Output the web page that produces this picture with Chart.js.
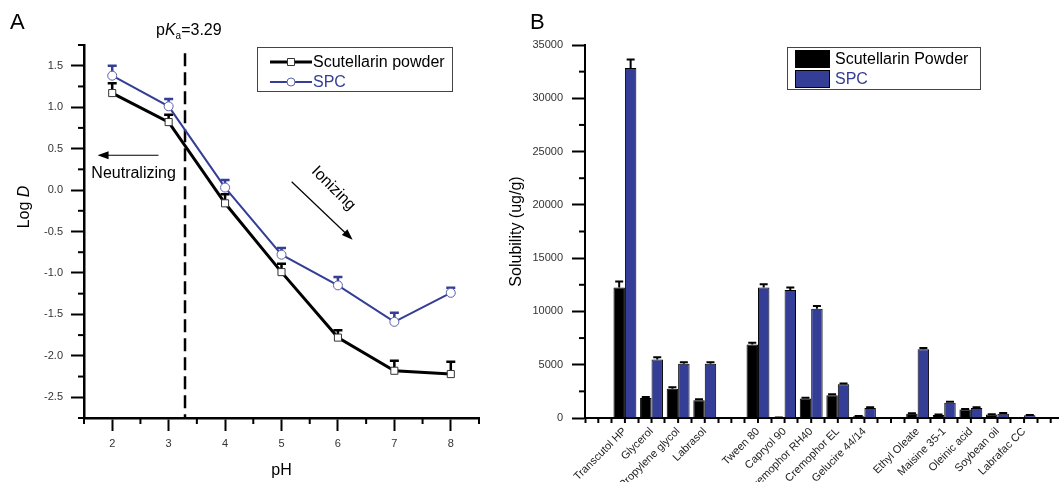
<!DOCTYPE html>
<html>
<head>
<meta charset="utf-8">
<script src="https://cdn.jsdelivr.net/npm/chart.js@4.4.1/dist/chart.umd.min.js"></script>
<style>
  html, body { margin: 0; padding: 0; background: #fff; overflow: hidden; }
  #wrap { position: relative; width: 1059px; height: 482px; overflow: hidden; }
  canvas { position: absolute; top: 0; }
  #chartA { left: 0; }
  #chartB { left: 500px; }
</style>
</head>
<body>
<div id="wrap">
  <canvas id="chartA" width="500" height="482"></canvas>
  <canvas id="chartB" width="568" height="482"></canvas>
</div>
<script>
const FONT = "'Liberation Sans', Arial, sans-serif";
const BLUE = '#343e96';

// Panel A: log D against pH
const phValues = [2, 3, 4, 5, 6, 7, 8];
const powderLogD = [1.17, 0.82, -0.16, -0.99, -1.78, -2.18, -2.22];
const powderLogDErr = [0.12, 0.09, 0.11, 0.10, 0.09, 0.12, 0.15];
const spcLogD = [1.38, 1.01, 0.03, -0.78, -1.15, -1.59, -1.24];
const spcLogDErr = [0.12, 0.09, 0.09, 0.08, 0.10, 0.11, 0.06];
const logDTicks = [-2.5, -2.0, -1.5, -1.0, -0.5, 0.0, 0.5, 1.0, 1.5];
const pKa = 3.29;

// Panel B: solubility in excipients (blank names are the gaps between groups)
const solvents = ['', 'Transcutol HP', 'Glycerol', 'Propylene glycol', 'Labrasol', '',
  'Tween 80', 'Capryol 90', 'Cremophor RH40', 'Cremophor EL', 'Gelucire 44/14', '',
  'Ethyl Oleate', 'Maisine 35-1', 'Oleinic acid', 'Soybean oil', 'Labrafac CC', ''];
const powderSol = [null, 12250, 1880, 2750, 1660, null, 6900, 40, 1820, 2130, 160, null, 400, 280, 790, 320, 0, null];
const powderSolErr = [null, 550, 90, 130, 90, null, 150, 10, 90, 100, 30, null, 50, 40, 60, 30, 0, null];
const spcSol = [null, 32850, 5500, 5100, 5100, null, 12250, 12000, 10250, 3160, 940, null, 6450, 1440, 940, 410, 250, null];
const spcSolErr = [null, 800, 200, 120, 120, null, 300, 250, 250, 80, 60, null, 130, 80, 60, 50, 30, null];
const solTicks = [0, 5000, 10000, 15000, 20000, 25000, 30000, 35000];

// error bars, upper side only
const errorBars = {
  id: 'errorBars',
  beforeDatasetsDraw(chart, args, opts) {
    const { ctx } = chart;
    const yScale = chart.scales.y;
    chart.data.datasets.forEach((ds, di) => {
      if (!ds.errors) return;
      const meta = chart.getDatasetMeta(di);
      ctx.save();
      ctx.strokeStyle = ds.errorColor;
      ctx.lineWidth = opts.width;
      meta.data.forEach((el, i) => {
        const v = meta.controller.getParsed(i).y;
        const err = ds.errors[i];
        if (v == null || isNaN(v) || !err) return;
        const top = yScale.getPixelForValue(v + err);
        ctx.beginPath();
        ctx.moveTo(el.x, el.y);
        ctx.lineTo(el.x, top);
        ctx.moveTo(el.x - opts.cap / 2, top);
        ctx.lineTo(el.x + opts.cap / 2, top);
        ctx.stroke();
      });
      ctx.restore();
    });
  }
};

// short ticks between the labelled ones
const minorTicks = {
  id: 'minorTicks',
  afterDraw(chart, args, opts) {
    const { ctx } = chart;
    ['x', 'y'].forEach(id => {
      const m = opts[id];
      const s = chart.scales[id];
      if (!m) return;
      ctx.save();
      ctx.strokeStyle = '#000';
      ctx.lineWidth = 2;
      m.values.forEach(v => {
        const p = s.getPixelForValue(v);
        ctx.beginPath();
        if (s.isHorizontal()) {
          ctx.moveTo(p, s.top);
          ctx.lineTo(p, s.top + m.length);
        } else {
          ctx.moveTo(s.right, p);
          ctx.lineTo(s.right - m.length, p);
        }
        ctx.stroke();
      });
      ctx.restore();
    });
  }
};

function arrow(ctx, x1, y1, x2, y2, head, width) {
  const a = Math.atan2(y2 - y1, x2 - x1);
  ctx.beginPath();
  ctx.moveTo(x1, y1);
  ctx.lineTo(x2 - Math.cos(a) * head * 0.8, y2 - Math.sin(a) * head * 0.8);
  ctx.stroke();
  ctx.beginPath();
  ctx.moveTo(x2, y2);
  ctx.lineTo(x2 - head * Math.cos(a) + width * Math.sin(a), y2 - head * Math.sin(a) - width * Math.cos(a));
  ctx.lineTo(x2 - head * Math.cos(a) - width * Math.sin(a), y2 - head * Math.sin(a) + width * Math.cos(a));
  ctx.closePath();
  ctx.fill();
}

const panelA = {
  id: 'panelA',
  beforeDatasetsDraw(chart) {
    const { ctx, chartArea, scales: { x, y } } = chart;
    const px = x.getPixelForValue(pKa);
    ctx.save();
    ctx.strokeStyle = '#000';
    ctx.lineWidth = 2.5;
    ctx.setLineDash([13, 6]);
    ctx.beginPath();
    ctx.moveTo(px, y.getPixelForValue(1.65));
    ctx.lineTo(px, chartArea.bottom);
    ctx.stroke();
    ctx.restore();
  },
  afterDraw(chart) {
    const { ctx, chartArea, scales: { x, y } } = chart;
    ctx.save();
    ctx.fillStyle = '#000';
    ctx.strokeStyle = '#000';

    // panel letter
    ctx.font = `22px ${FONT}`;
    ctx.fillText('A', 10, 29);

    // pKa label
    let tx = x.getPixelForValue(pKa) - 29;
    const ty = 35;
    ctx.font = `16px ${FONT}`;
    ctx.fillText('p', tx, ty); tx += ctx.measureText('p').width;
    ctx.font = `italic 16px ${FONT}`;
    ctx.fillText('K', tx, ty); tx += ctx.measureText('K').width;
    ctx.font = `10px ${FONT}`;
    ctx.fillText('a', tx, ty + 4); tx += ctx.measureText('a').width;
    ctx.font = `16px ${FONT}`;
    ctx.fillText('=3.29', tx, ty);

    // y title "Log D"
    ctx.save();
    ctx.translate(25, 207);
    ctx.rotate(-Math.PI / 2);
    ctx.textBaseline = 'middle';
    ctx.font = `16px ${FONT}`;
    const w1 = ctx.measureText('Log ').width;
    ctx.font = `italic 16px ${FONT}`;
    const w2 = ctx.measureText('D').width;
    ctx.font = `16px ${FONT}`;
    ctx.fillText('Log ', -(w1 + w2) / 2, 0);
    ctx.font = `italic 16px ${FONT}`;
    ctx.fillText('D', -(w1 + w2) / 2 + w1, 0);
    ctx.restore();

    // neutralizing / ionizing arrows
    ctx.lineWidth = 1.2;
    arrow(ctx, x.getPixelForValue(2.82), y.getPixelForValue(0.42), x.getPixelForValue(1.74), y.getPixelForValue(0.42), 11, 4);
    ctx.font = `16px ${FONT}`;
    ctx.fillText('Neutralizing', x.getPixelForValue(1.63), y.getPixelForValue(0.14));
    arrow(ctx, x.getPixelForValue(5.18), y.getPixelForValue(0.10), x.getPixelForValue(6.26), y.getPixelForValue(-0.60), 11, 4);
    ctx.save();
    ctx.translate(x.getPixelForValue(5.92), y.getPixelForValue(0.02));
    ctx.rotate(Math.PI / 4);
    ctx.textAlign = 'center';
    ctx.textBaseline = 'middle';
    ctx.fillText('Ionizing', 0, 0);
    ctx.restore();

    // legend
    const lx = chartArea.right - 222, ly = chartArea.top + 2;
    ctx.lineWidth = 1;
    ctx.strokeStyle = '#444';
    ctx.strokeRect(lx + 0.5, ly + 0.5, 195, 44);
    chart.data.datasets.forEach((ds, i) => {
      const cy = ly + 15 + i * 20;
      ctx.strokeStyle = ds.borderColor;
      ctx.lineWidth = ds.borderWidth;
      ctx.beginPath();
      ctx.moveTo(lx + 13, cy);
      ctx.lineTo(lx + 55, cy);
      ctx.stroke();
      ctx.fillStyle = '#fff';
      ctx.strokeStyle = ds.pointBorderColor;
      ctx.lineWidth = 1;
      ctx.beginPath();
      if (ds.pointStyle === 'rect') ctx.rect(lx + 30.5, cy - 3.5, 7, 7);
      else ctx.arc(lx + 34, cy, 4, 0, Math.PI * 2);
      ctx.fill();
      ctx.stroke();
      ctx.fillStyle = i === 0 ? '#000' : ds.borderColor;
      ctx.font = `16px ${FONT}`;
      ctx.textBaseline = 'middle';
      ctx.fillText(ds.label, lx + 56, cy + 1);
    });
    ctx.restore();
  }
};

const legendB = {
  id: 'legendB',
  afterDraw(chart) {
    const { ctx, chartArea } = chart;
    ctx.save();
    ctx.fillStyle = '#000';
    ctx.font = `22px ${FONT}`;
    ctx.fillText('B', chartArea.left - 55, 29);

    const lx = chartArea.left + 202, ly = 47;
    ctx.lineWidth = 1;
    ctx.strokeStyle = '#444';
    ctx.strokeRect(lx + 0.5, ly + 0.5, 193, 42);
    chart.data.datasets.forEach((ds, i) => {
      const top = ly + 3 + i * 20;
      ctx.fillStyle = ds.backgroundColor;
      ctx.fillRect(lx + 8, top, 35, 18);
      ctx.strokeStyle = '#000';
      ctx.strokeRect(lx + 8.5, top + 0.5, 34, 17);
      ctx.fillStyle = i === 0 ? '#000' : ds.backgroundColor;
      ctx.font = `16px ${FONT}`;
      ctx.textBaseline = 'middle';
      ctx.fillText(ds.label, lx + 48, top + 10);
    });
    ctx.restore();
  }
};

const tickFont = { family: FONT, size: 11 };

const minorPh = [];
for (let v = 1.5; v <= 8.5; v += 1) minorPh.push(v);
const minorLogD = [];
for (let v = -2.75; v <= 1.75; v += 0.5) minorLogD.push(v);
const minorSol = [];
for (let v = 2500; v < 35000; v += 5000) minorSol.push(v);

new Chart(document.getElementById('chartA'), {
  type: 'line',
  data: {
    datasets: [
      {
        label: 'Scutellarin powder',
        data: phValues.map((x, i) => ({ x, y: powderLogD[i] })),
        errors: powderLogDErr,
        errorColor: '#000',
        borderColor: '#000',
        borderWidth: 3,
        pointStyle: 'rect',
        pointRadius: 5,
        pointBackgroundColor: '#fff',
        pointBorderColor: '#333',
        pointBorderWidth: 1
      },
      {
        label: 'SPC',
        data: phValues.map((x, i) => ({ x, y: spcLogD[i] })),
        errors: spcLogDErr,
        errorColor: BLUE,
        borderColor: BLUE,
        borderWidth: 2,
        pointStyle: 'circle',
        pointRadius: 4.5,
        pointBackgroundColor: '#fff',
        pointBorderColor: '#5a62a8',
        pointBorderWidth: 1
      }
    ]
  },
  options: {
    responsive: false,
    animation: false,
    layout: { padding: { top: 45, right: 21, bottom: 0, left: 0 } },
    plugins: {
      legend: { display: false },
      tooltip: { enabled: false },
      errorBars: { width: 2.5, cap: 9 },
      minorTicks: { x: { values: minorPh, length: 6 }, y: { values: minorLogD, length: 6 } }
    },
    scales: {
      x: {
        type: 'linear',
        min: 1.5,
        max: 8.5,
        afterBuildTicks: s => { s.ticks = phValues.map(v => ({ value: v })); },
        grid: { drawOnChartArea: false, tickLength: 13, tickWidth: 2, tickColor: '#000' },
        border: { color: '#000', width: 2.5 },
        ticks: { font: tickFont, color: '#333', padding: 6 },
        title: { display: true, text: 'pH', font: { family: FONT, size: 16 }, color: '#000', padding: { top: 0, bottom: 2 } },
        afterFit: s => { s.height = 64; }
      },
      y: {
        min: -2.75,
        max: 1.75,
        afterBuildTicks: s => { s.ticks = logDTicks.map(v => ({ value: v })); },
        grid: { drawOnChartArea: false, tickLength: 13, tickWidth: 2, tickColor: '#000' },
        border: { color: '#000', width: 2.5 },
        ticks: { font: tickFont, color: '#333', padding: 8, callback: v => v.toFixed(1) },
        afterFit: s => { s.width = 84; }
      }
    }
  },
  plugins: [panelA, errorBars, minorTicks]
});

new Chart(document.getElementById('chartB'), {
  type: 'bar',
  data: {
    labels: solvents,
    datasets: [
      {
        label: 'Scutellarin Powder',
        data: powderSol,
        errors: powderSolErr,
        errorColor: '#000',
        backgroundColor: '#000',
        borderColor: '#000',
        borderWidth: 1
      },
      {
        label: 'SPC',
        data: spcSol,
        errors: spcSolErr,
        errorColor: '#000',
        backgroundColor: BLUE,
        borderColor: '#000',
        borderWidth: 1
      }
    ]
  },
  options: {
    responsive: false,
    animation: false,
    layout: { padding: { top: 45, right: 4, bottom: 0, left: 0 } },
    datasets: { bar: { categoryPercentage: 0.86, barPercentage: 1 } },
    plugins: {
      legend: { display: false },
      tooltip: { enabled: false },
      errorBars: { width: 2, cap: 8 },
      minorTicks: { x: { values: solvents.map((_, i) => i), length: 5 }, y: { values: minorSol, length: 6 } }
    },
    scales: {
      x: {
        grid: { drawOnChartArea: false, offset: true, tickLength: 5, tickWidth: 2, tickColor: '#000' },
        border: { color: '#000', width: 2 },
        ticks: { autoSkip: false, minRotation: 45, maxRotation: 45, font: tickFont, color: '#222', padding: 2 },
        afterFit: s => { s.height = 64; }
      },
      y: {
        min: 0,
        max: 35000,
        afterBuildTicks: s => { s.ticks = solTicks.map(v => ({ value: v })); },
        grid: { drawOnChartArea: false, tickLength: 13, tickWidth: 2, tickColor: '#000' },
        border: { color: '#000', width: 2 },
        ticks: { font: tickFont, color: '#333', padding: 9, callback: v => String(v) },
        title: { display: true, text: 'Solubility (ug/g)', font: { family: FONT, size: 16 }, color: '#000', padding: { top: 7, bottom: 0 } },
        afterFit: s => { s.width = 85; }
      }
    }
  },
  plugins: [legendB, errorBars, minorTicks]
});
</script>
</body>
</html>
